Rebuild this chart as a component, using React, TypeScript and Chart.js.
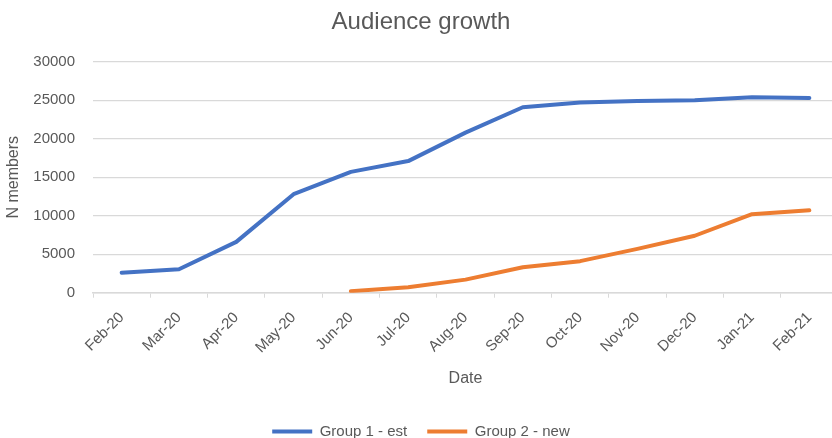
import React, { useEffect, useRef } from "react";
import { Chart, registerables } from "chart.js";

Chart.register(...registerables);

const categories = ["Feb-20", "Mar-20", "Apr-20", "May-20", "Jun-20", "Jul-20", "Aug-20", "Sep-20", "Oct-20", "Nov-20", "Dec-20", "Jan-21", "Feb-21"];
const group1 = [2600, 3050, 6600, 12800, 15700, 17100, 20800, 24100, 24700, 24900, 25000, 25400, 25300];
const group2 = [null, null, null, null, 200, 700, 1700, 3300, 4100, 5700, 7400, 10200, 10700];
const yTicks = { min: 0, max: 30000, step: 5000 };

const FONT = "'Liberation Sans', 'DejaVu Sans', sans-serif";
const GRAY = "#595959";

export default function App() {
  const ref = useRef<HTMLCanvasElement | null>(null);
  useEffect(() => {
    if (!ref.current) return;
    const chart = new Chart(ref.current, {
      type: "line",
      data: {
        labels: categories,
        datasets: [
          { label: "Group 1 - est", data: group1, borderColor: "#4472C4", backgroundColor: "#4472C4", borderWidth: 4, pointRadius: 0, tension: 0, borderCapStyle: "round", borderJoinStyle: "round" },
          { label: "Group 2 - new", data: group2, borderColor: "#ED7D31", backgroundColor: "#ED7D31", borderWidth: 4, pointRadius: 0, tension: 0, borderCapStyle: "round", borderJoinStyle: "round" },
        ],
      },
      options: {
        animation: false,
        responsive: false,
        maintainAspectRatio: false,
        layout: { padding: { left: 4, right: 6, top: 6, bottom: 0 } },
        plugins: {
          title: { display: true, text: "Audience growth", color: GRAY, font: { family: FONT, size: 24, weight: "normal" }, padding: { top: 2, bottom: 25 } },
          legend: {
            position: "bottom",
            labels: {
              color: GRAY,
              font: { family: FONT, size: 15 },
              boxWidth: 40,
              boxHeight: 4,
              padding: 20,
              generateLabels: (c: any) => c.data.datasets.map((d: any, i: number) => ({
                text: d.label, fillStyle: d.borderColor, strokeStyle: d.borderColor, lineWidth: 0, hidden: false, datasetIndex: i, fontColor: GRAY,
              })),
            },
          },
          tooltip: { enabled: false },
        },
        scales: {
          x: {
            offset: true,
            grid: { display: true, offset: true, drawOnChartArea: false, color: "#d9d9d9", tickLength: 5, tickColor: "#d9d9d9" },
            border: { color: "#d9d9d9", width: 1.5 },
            ticks: { color: GRAY, font: { family: FONT, size: 15 }, maxRotation: 45, minRotation: 45, autoSkip: false, padding: 11 },
            title: { display: true, text: "Date", color: GRAY, font: { family: FONT, size: 16 }, padding: { top: 1, bottom: 16 } },
            afterFit: (s: any) => { s.paddingLeft = 0; s.paddingRight = 0; },
          },
          y: {
            min: yTicks.min,
            max: yTicks.max,
            ticks: { stepSize: yTicks.step, color: GRAY, font: { family: FONT, size: 15 }, padding: 18, callback: (v: any) => String(v) },
            grid: { color: "#d9d9d9", lineWidth: 1.2, drawTicks: false },
            border: { display: false },
            title: { display: true, text: "N members", color: GRAY, font: { family: FONT, size: 16 }, padding: { top: 0, bottom: 4 } },
            afterFit: (s: any) => { s.width = 89; },
          },
        },
      },
    });
    return () => chart.destroy();
  }, []);
  return (
    <div style={{ position: "fixed", left: 0, top: 0, width: 832, height: 438, overflow: "hidden", background: "#fff" }}>
      <canvas ref={ref} width={844} height={449} style={{ display: "block", width: 844, height: 449 }} />
    </div>
  );
}
